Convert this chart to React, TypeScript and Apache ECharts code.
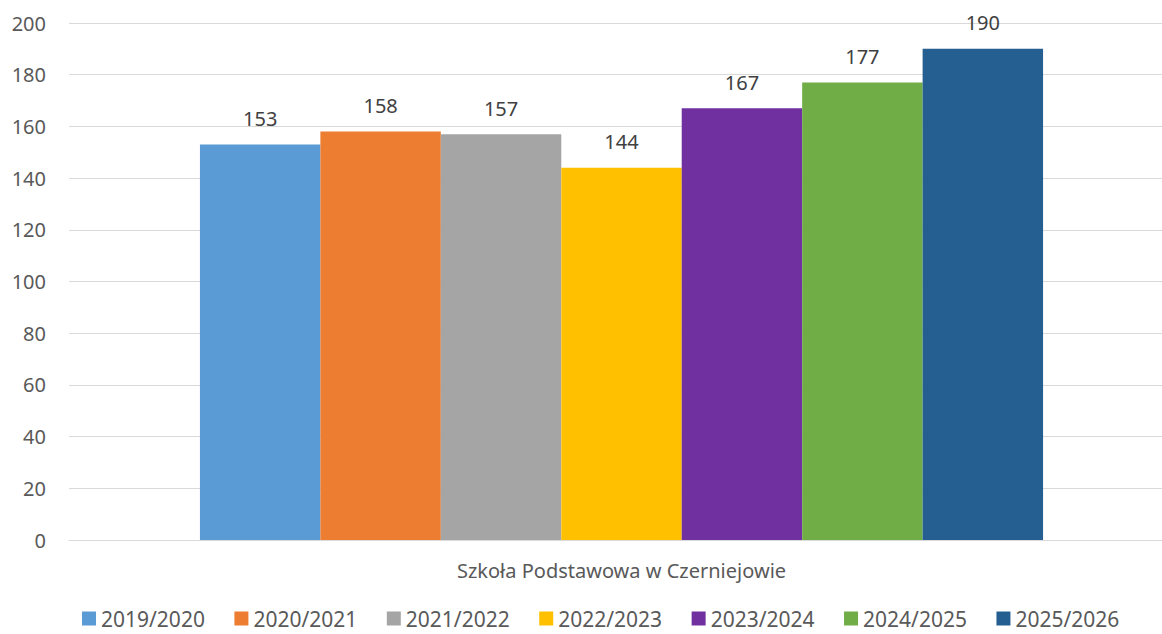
import React, { useEffect, useRef } from "react";
import * as echarts from "echarts";

const categories = ["Szkoła Podstawowa w Czerniejowie"];
const seriesNames = ["2019/2020", "2020/2021", "2021/2022", "2022/2023", "2023/2024", "2024/2025", "2025/2026"];
const seriesValues = [153, 158, 157, 144, 167, 177, 190];
const seriesColors = ["#5B9BD5", "#ED7D31", "#A5A5A5", "#FFC000", "#7030A0", "#70AD47", "#255E91"];
const yMin = 0;
const yMax = 200;
const yInterval = 20;

const FONT = "'Noto Sans', 'Open Sans', sans-serif";

export default function App() {
  const ref = useRef<HTMLDivElement>(null);
  useEffect(() => {
    document.body.style.margin = "0";
    document.body.style.overflow = "hidden";
    const chart = echarts.init(ref.current!, null, { renderer: "svg" });
    chart.setOption({
      animation: false,
      textStyle: { fontFamily: FONT },
      grid: { left: 69, right: 0, top: 23, bottom: 94, containLabel: false },
      legend: {
        left: 82,
        top: 608,
        padding: 0,
        icon: "rect",
        itemWidth: 14,
        itemHeight: 14,
        itemGap: 29.5,
        textStyle: { fontSize: 21, lineHeight: 18, color: "#595959", fontFamily: FONT },
        data: seriesNames,
      },
      xAxis: {
        type: "category",
        data: categories,
        axisLine: { show: true, lineStyle: { color: "#D9D9D9", width: 1 } },
        axisTick: { show: false },
        axisLabel: { fontSize: 20, color: "#595959", margin: 20, fontFamily: FONT },
      },
      yAxis: {
        type: "value",
        min: yMin,
        max: yMax,
        interval: yInterval,
        axisLine: { show: false },
        axisTick: { show: false },
        splitLine: { lineStyle: { color: "#D9D9D9", width: 1 } },
        axisLabel: { fontSize: 20, color: "#595959", margin: 23, fontFamily: FONT },
      },
      series: seriesNames.map((name, i) => ({
        name,
        type: "bar",
        data: [seriesValues[i]],
        barGap: "0%",
        barCategoryGap: "23.7%",
        itemStyle: { color: seriesColors[i] },
        label: {
          show: true,
          position: "top",
          distance: 16,
          fontSize: 20,
          color: "#404040",
          fontFamily: FONT,
        },
      })),
    });
    return () => chart.dispose();
  }, []);
  return <div ref={ref} style={{ width: 1174, height: 634 }} />;
}
